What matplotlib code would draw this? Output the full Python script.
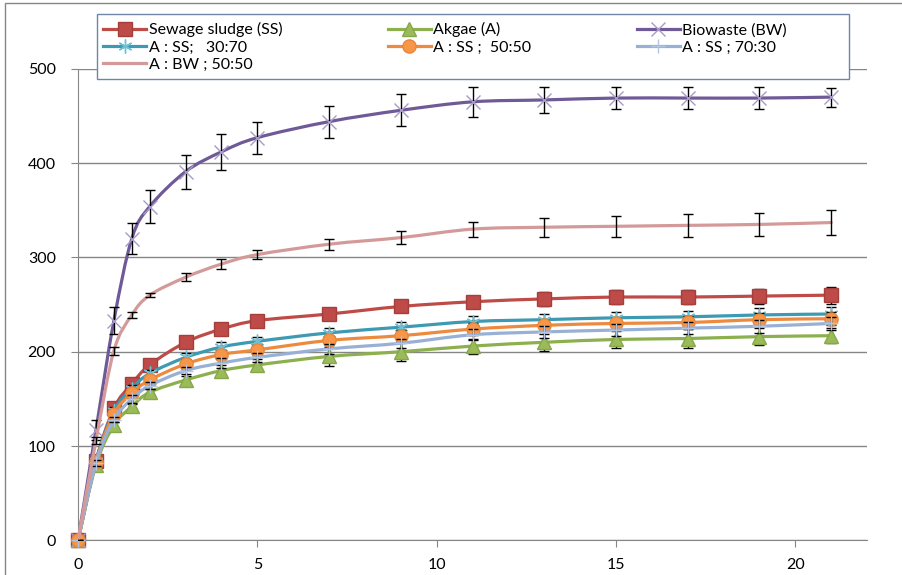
import numpy as np
import matplotlib.pyplot as plt
from matplotlib.path import Path
from matplotlib.patches import PathPatch, Rectangle
from matplotlib.lines import Line2D

plt.rcParams['font.family'] = ['Lato', 'DejaVu Sans']

days = [0, 0.5, 1, 1.5, 2, 3, 4, 5, 7, 9, 11, 13, 15, 17, 19, 21]

sewage_sludge = [0, 84, 140, 166, 186, 210, 224, 233, 240, 248, 253, 256, 258, 258, 259, 260]
sewage_sludge_err = [0, 3, 4, 4, 4, 5, 5, 5, 5, 5, 5, 7, 7, 7, 8, 9]

algae = [0, 80, 122, 142, 157, 170, 180, 186, 195, 200, 206, 210, 213, 214, 216, 217]
algae_err = [0, 2, 3, 3, 3, 4, 6, 6, 10, 10, 8, 9, 9, 10, 9, 8]

biowaste = [0, 117, 233, 320, 354, 391, 412, 427, 444, 456, 465, 467, 469, 469, 469, 470]
biowaste_err = [0, 11, 14, 16, 17, 18, 19, 17, 17, 17, 16, 14, 12, 12, 12, 10]

a_ss_30_70 = [0, 84, 137, 161, 177, 194, 205, 211, 220, 226, 232, 234, 236, 237, 239, 240]
a_ss_30_70_err = [0, 3, 4, 4, 4, 5, 5, 5, 5, 6, 6, 6, 6, 6, 7, 7]

a_ss_50_50 = [0, 83, 134, 156, 170, 187, 197, 202, 212, 217, 224, 228, 230, 231, 234, 235]
a_ss_50_50_err = [0, 3, 4, 4, 4, 5, 5, 5, 5, 6, 6, 6, 6, 7, 7, 7]

a_ss_70_30 = [0, 82, 128, 150, 164, 180, 188, 194, 203, 209, 218, 221, 223, 225, 227, 230]
a_ss_70_30_err = [0, 3, 3, 4, 4, 4, 5, 5, 5, 5, 6, 6, 6, 6, 7, 7]

a_bw_50_50 = [0, 106, 201, 239, 260, 279, 293, 303, 314, 321, 330, 332, 333, 334, 335, 337]
a_bw_50_50_err = [0, 4, 4, 3, 2, 4, 5, 5, 6, 7, 8, 10, 11, 12, 12, 13]

labels = ['Sewage sludge (SS)', 'Akgae (A)', 'Biowaste (BW)',
          'A : SS;   30:70', 'A : SS ;  50:50', 'A : SS ; 70:30', 'A : BW ; 50:50']

series = [
    (sewage_sludge, sewage_sludge_err, '#BE4B48', dict(marker='s', ms=9.5, mfc='#BE4B48', mec='#A33F3C', mew=1)),
    (algae, algae_err, '#8DB04E', dict(marker='^', ms=9.5, mfc='#9BBB59', mec='#86A84A', mew=1)),
    (biowaste, biowaste_err, '#6F5A98', dict(marker='x', ms=10, mec='#A89BC8', mew=1)),
    (a_ss_30_70, a_ss_30_70_err, '#3D9AB2', dict(marker=(6, 2, 0), ms=10, mec='#6FC0D6', mew=1)),
    (a_ss_50_50, a_ss_50_50_err, '#EC8A3F', dict(marker='o', ms=9.5, mfc='#F79646', mec='#E8873C', mew=1)),
    (a_ss_70_30, a_ss_70_30_err, '#98B0D6', dict(marker='+', ms=10, mec='#B3C5E2', mew=1)),
    (a_bw_50_50, a_bw_50_50_err, '#D49A9A', dict(marker='None')),
]


def smooth_path(x, y):
    # cubic bezier through every point, like a smoothed spreadsheet line
    pts = np.column_stack([x, y]).astype(float)
    ext = np.vstack([pts[0], pts, pts[-1]])
    verts = [pts[0]]
    codes = [Path.MOVETO]
    for i in range(len(pts) - 1):
        p0, p1, p2, p3 = ext[i], ext[i + 1], ext[i + 2], ext[i + 3]
        verts += [p1 + (p2 - p0) / 6, p2 - (p3 - p1) / 6, p2]
        codes += [Path.CURVE4] * 3
    return Path(verts, codes)


fig = plt.figure(figsize=(9.03, 5.75), dpi=100)
ax = fig.add_axes([0.0864, 0.0603, 0.8738, 0.82])

grey = '#868686'
handles = []
for i, (y, err, color, mk) in enumerate(series):
    z = 2 + i * 0.1
    ax.add_patch(PathPatch(smooth_path(days, y), fill=False, edgecolor=color,
                           lw=2.3, capstyle='round', joinstyle='round', zorder=z))
    ax.errorbar(days, y, yerr=err, fmt='none', ecolor='black', elinewidth=1,
                capsize=3.5, capthick=1, zorder=z + 0.03)
    ax.plot(days, y, linestyle='none', zorder=z + 0.06, clip_on=False, **mk)
    handles.append(Line2D([], [], color=color, lw=2.3, **mk))

ax.set_xlim(0, 22)
ax.set_ylim(0, 500)
ax.set_xticks([0, 5, 10, 15, 20])
ax.set_yticks([0, 100, 200, 300, 400, 500])
ax.grid(axis='y', color=grey, lw=1)
ax.set_axisbelow(True)
for s in ['top', 'right']:
    ax.spines[s].set_visible(False)
for s in ['left', 'bottom']:
    ax.spines[s].set_color(grey)
ax.tick_params(axis='both', direction='out', length=5, color=grey, labelsize=11.5)
ax.tick_params(axis='y', pad=11)
ax.tick_params(axis='x', pad=8)

# legend box
box_x0, box_y0, box_x1, box_y1 = 97, 14, 849, 79
ax.add_patch(Rectangle((box_x0 / 903, 1 - box_y1 / 575), (box_x1 - box_x0) / 903,
                       (box_y1 - box_y0) / 575, transform=fig.transFigure,
                       facecolor='white', edgecolor='#6E87A6', lw=1, zorder=4.5,
                       clip_on=False))

order = [0, 3, 6, 1, 4, 2, 5]
leg = ax.legend([handles[k] for k in order], [labels[k] for k in order],
                ncol=3, frameon=False, loc='upper left',
                bbox_to_anchor=(100 / 903, 1 - 19 / 575),
                bbox_transform=fig.transFigure, fontsize=11.5,
                handlelength=2.7, handletextpad=0.15, columnspacing=6.6,
                labelspacing=0.2, borderpad=0.2, borderaxespad=0)
leg.set_zorder(5)

# outer chart frame
fig.patches.append(Rectangle((5 / 903, -0.05), 1.1, 1 - 3 / 575 + 0.05,
                             transform=fig.transFigure, fill=False,
                             edgecolor=grey, lw=1))

fig.savefig('out.png', dpi=100)
